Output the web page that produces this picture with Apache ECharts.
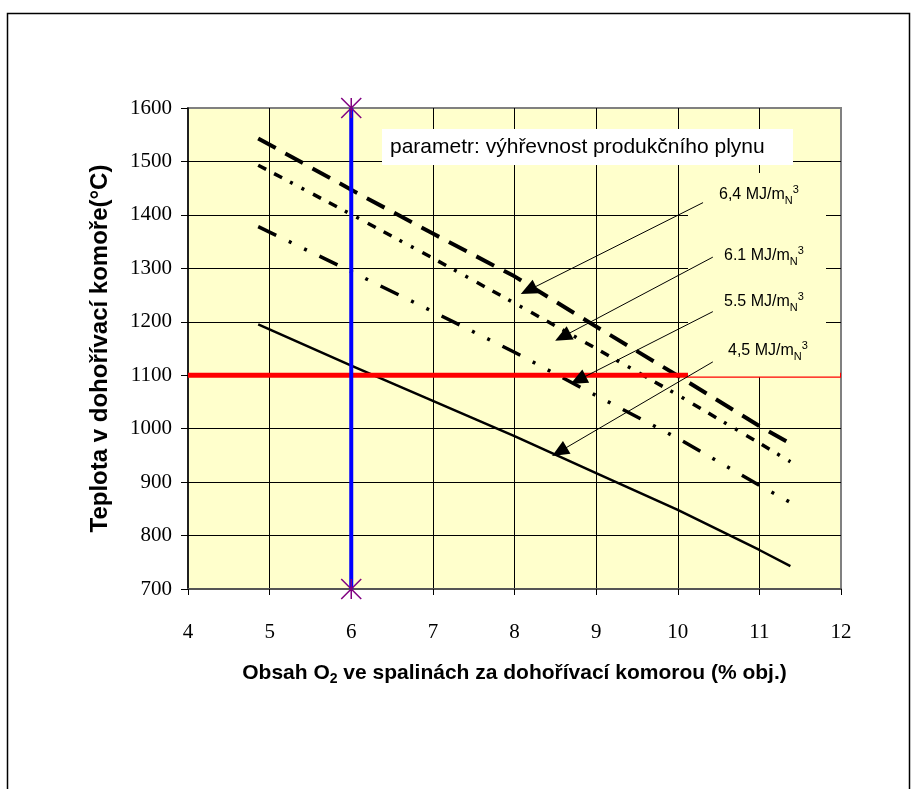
<!DOCTYPE html>
<html>
<head>
<meta charset="utf-8">
<script src="https://cdn.jsdelivr.net/npm/echarts@6/dist/echarts.min.js"></script>
<style>
html, body { margin: 0; padding: 0; background: #fff; }
#main { width: 912px; height: 789px; }
</style>
</head>
<body>
<div id="main"></div>
<script>
// values: [O2 %, temperature °C]
var heat64 = [[4.86, 1543], [6, 1447], [7, 1365], [8, 1285], [9, 1191], [10, 1099], [11, 1005], [11.38, 972]];
var heat61 = [[4.86, 1493], [6, 1401], [7, 1319], [8, 1235], [9, 1150], [10, 1063], [11, 973], [11.38, 938]];
var heat55 = [[4.86, 1378], [6, 1294], [7, 1219], [8, 1143], [9, 1062], [10, 982], [11, 894], [11.38, 862]];
var heat45 = [[4.86, 1195], [6, 1118], [7, 1052], [8, 986], [9, 917], [10, 848], [11, 773], [11.38, 743]];

var limitO2 = [[6, 700], [6, 1600]];
var limitTemp = [[4, 1100], [12, 1100]];

// arrows from the labels to the curves: [from, to]
var arrowLines = [
    [[10.31, 1423], [8.17, 1259]],
    [[10.43, 1321], [8.59, 1172]],
    [[10.43, 1219], [8.78, 1091]],
    [[10.43, 1125], [8.55, 957]]
];
var curveLabels = ['6,4', '6.1', '5.5', '4,5'];

var xMin = 4, xMax = 12, xStep = 1;
var yMin = 700, yMax = 1600, yStep = 100;

var myChart = echarts.init(document.getElementById('main'));

var serif = '"Liberation Serif", "Times New Roman", serif';
var sans = '"Liberation Sans", Arial, sans-serif';

var labelTops = [184, 245, 291, 340];
var labelLefts = [719, 724, 724, 728];

var graphics = [
    {
        type: 'rect', left: 5, top: 11, z: 0,
        shape: { width: 902, height: 800 },
        style: { fill: 'none', stroke: '#000', lineWidth: 1.5 }
    },
    {
        type: 'rect', z: 3,
        shape: { x: 382, y: 129, width: 411, height: 36 },
        style: { fill: '#fff' }
    },
    {
        type: 'text', z: 4, x: 390, y: 147,
        style: {
            text: 'parametr: výhřevnost produkčního plynu',
            font: '21px ' + sans, fill: '#000', verticalAlign: 'middle'
        }
    },
    // label box that hides part of the grid and the red line
    {
        type: 'rect', z: 3,
        shape: { x: 688, y: 173, width: 138, height: 203.5 },
        style: { fill: '#FFFFCC' }
    },
    {
        type: 'rect', z: 3,
        shape: { x: 826, y: 371, width: 14, height: 5.5 },
        style: { fill: '#FFFFCC' }
    }
];

for (var i = 0; i < curveLabels.length; i++) {
    graphics.push({
        type: 'text', z: 6, x: labelLefts[i], y: labelTops[i],
        style: {
            text: '{a|' + curveLabels[i] + ' MJ/m}{n|N}{s|3}',
            fill: '#000',
            rich: {
                a: { fontSize: 16, fontFamily: sans, lineHeight: 22, verticalAlign: 'middle' },
                n: { fontSize: 11, fontFamily: sans, lineHeight: 22, verticalAlign: 'bottom' },
                s: { fontSize: 11, fontFamily: sans, lineHeight: 22, verticalAlign: 'top' }
            }
        }
    });
}

var curveStyle = function (width, dash) {
    return { color: '#000', width: width, type: dash, cap: 'butt' };
};

option = {
    animation: false,
    grid: {
        left: 188, top: 108, width: 653, height: 481,
        show: true, backgroundColor: '#FFFFCC',
        borderColor: '#808080', borderWidth: 2
    },
    xAxis: {
        type: 'value', min: xMin, max: xMax, interval: xStep,
        name: '{b|Obsah O}{s|2}{b| ve spalinách za dohořívací komorou (% obj.)}',
        nameLocation: 'middle', nameGap: 71,
        nameTextStyle: {
            rich: {
                b: { fontSize: 21, fontWeight: 'bold', fontFamily: sans, color: '#000', lineHeight: 26, verticalAlign: 'middle' },
                s: { fontSize: 14, fontWeight: 'bold', fontFamily: sans, color: '#000', lineHeight: 26, verticalAlign: 'bottom' }
            }
        },
        axisLine: { lineStyle: { color: '#555', width: 2 } },
        axisTick: { show: true, inside: false, length: 6, lineStyle: { color: '#000' } },
        axisLabel: { margin: 33, fontSize: 21, fontFamily: serif, color: '#000' },
        splitLine: { show: true, showMinLine: false, showMaxLine: false, lineStyle: { color: '#000', width: 1 } }
    },
    yAxis: {
        type: 'value', min: yMin, max: yMax, interval: yStep,
        name: 'Teplota v dohořívací komoře(°C)',
        nameLocation: 'middle', nameGap: 76,
        nameTextStyle: { fontSize: 24, fontWeight: 'bold', fontFamily: sans, color: '#000' },
        axisLine: { lineStyle: { color: '#000', width: 1.5 } },
        axisTick: { show: true, inside: false, length: 7, lineStyle: { color: '#000' } },
        axisLabel: {
            margin: 16, fontSize: 21, fontFamily: serif, color: '#000',
            formatter: function (v) { return String(v); }
        },
        splitLine: { show: true, showMinLine: false, showMaxLine: false, lineStyle: { color: '#000', width: 1 } }
    },
    graphic: graphics,
    series: [
        {
            name: '6,4', type: 'line', data: heat64, symbol: 'none', z: 2,
            lineStyle: curveStyle(4, [20, 11])
        },
        {
            name: '6.1', type: 'line', data: heat61, symbol: 'none', z: 2,
            lineStyle: curveStyle(3.5, [9, 9, 9, 9, 3, 10, 3, 10])
        },
        {
            name: '5.5', type: 'line', data: heat55, symbol: 'none', z: 2,
            lineStyle: curveStyle(3.5, [20, 14, 3, 14, 3, 14])
        },
        {
            name: '4,5', type: 'line', data: heat45, symbol: 'none', z: 2,
            lineStyle: curveStyle(2.5, 'solid')
        },
        {
            name: 'teplota', type: 'line', data: limitTemp, symbol: 'none', z: 2,
            lineStyle: { color: '#FF0000', width: 5 }
        },
        {
            name: 'O2', type: 'line', data: limitO2, z: 2,
            symbol: 'path://M0,0L20,20M20,0L0,20M10,0L10,20', symbolSize: 20,
            itemStyle: { color: 'rgba(0,0,0,0)', borderColor: '#800080', borderWidth: 1.5 },
            lineStyle: { color: '#0000FF', width: 4 }
        },
        {
            name: 'arrows', type: 'line', data: [], z: 5,
            markLine: {
                silent: true, symbol: ['none', 'triangle'], symbolSize: [15, 17],
                label: { show: false },
                lineStyle: { color: '#000', width: 1, type: 'solid' },
                emphasis: { disabled: true },
                data: arrowLines.map(function (a) {
                    return [{ coord: a[0] }, { coord: a[1] }];
                })
            }
        }
    ]
};

myChart.setOption(option);
</script>
</body>
</html>
